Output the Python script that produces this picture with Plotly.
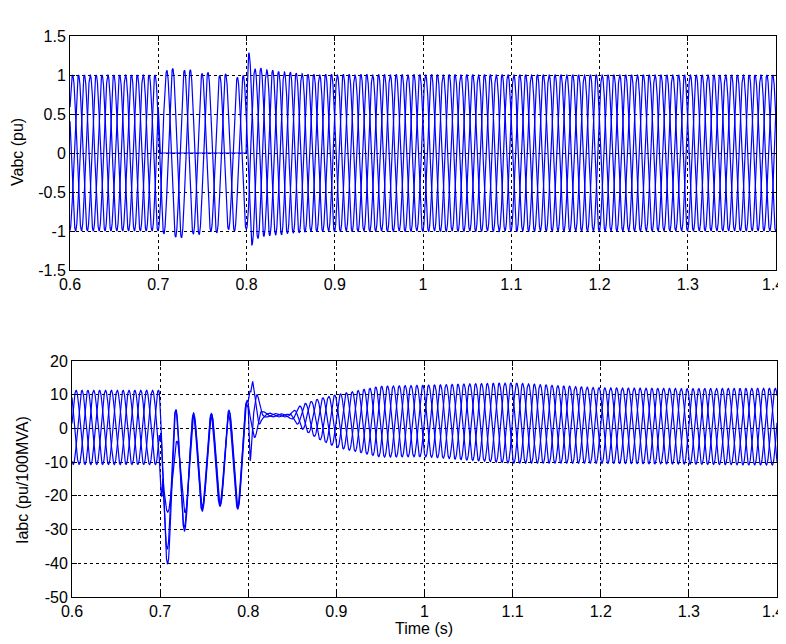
import numpy as np
import plotly.graph_objects as go

# ---------------- data ----------------
F_HZ = 50.0                      # grid frequency (peak spacing)
T_START, T_END, DT = 0.6, 1.4, 0.0001

# Voltage envelopes (pu): amplitude knots per phase
VA_T   = [0.6, 0.700, 0.7015, 0.7995, 0.8015, 0.806, 0.812, 0.82, 0.835, 0.85, 0.88, 1.4]
VA_AMP = [1.0, 1.0,   0.0,    0.0,    1.33,   1.16,  1.10,  1.07, 1.05,  1.03, 1.0,  1.0]
VBC_T  = [0.6, 0.700, 0.705, 0.72, 0.75, 0.79, 0.800, 0.805, 0.81, 0.82, 0.84, 0.87, 1.4]
VB_AMP = [1.0, 1.0,   1.05,  1.08, 1.02, 0.97, 0.98,  1.08,  1.08, 1.07, 1.05, 1.01, 1.0]
VC_AMP = [1.0, 1.0,   1.03,  1.10, 1.04, 1.00, 0.99,  1.20,  1.12, 1.07, 1.04, 1.01, 1.0]
V_PHASE = [0.10, 0.10 - 1/3, 0.10 + 1/3]      # phase of a, b, c (cycles)

# Current envelopes (pu/100MVA)
IA_T   = [0.6, 0.699, 0.702, 0.71, 0.73, 0.75, 0.77, 0.79, 0.798, 0.805, 0.81, 0.815, 0.82, 0.845, 0.85, 0.86, 0.88, 0.9, 0.95, 1.0, 1.05, 1.1, 1.15, 1.2, 1.3, 1.4]
IA_AMP = [11,  11,    20,    24,   17,   14,   14,   15,   14,    9,     6,    1.5,   0.6,  0.4,   1.2,  3.5,  6.0,  7.8, 10.5, 10.6, 11.3, 11.9, 11.5, 11.2, 11.2, 11.4]
IA_OFF = [0.3, 0.3,   -14,   -18,  -12,  -10,  -9,   -9,   -6,    5,     4.5,  4.0,   4.0,  3.8,   3.8,  3.5,  2.8,  2.2,  2.0,  2.2,  1.9,  1.6,  1.2,  0.85, 0.6,  0.5]
IB_AMP = [11,  11,    9,     8,    14,   13.5, 13.5, 14.5, 13.5,  9,     6,    1.5,   0.6,  0.4,   1.2,  3.5,  6.0,  7.8, 10.5, 10.6, 11.3, 11.9, 11.5, 11.2, 11.2, 11.4]
IB_OFF = [0.3, 0.3,   -15,   -17,  -11,  -9.5, -9,   -9,   -6,    5,     4.5,  4.0,   4.0,  3.8,   3.8,  3.5,  2.8,  2.2,  2.0,  2.2,  1.9,  1.6,  1.2,  0.85, 0.6,  0.5]
IC_AMP = [11,  11,    18,    22,   16,   13.5, 13,   14,   13,    9,     6,    1.5,   0.6,  0.4,   1.2,  3.5,  6.0,  7.8, 10.5, 10.6, 11.3, 11.9, 11.5, 11.2, 11.2, 11.4]
IC_OFF = [0.3, 0.3,   -12,   -16,  -12,  -10,  -9.5, -9.5, -6,    5,     4.5,  4.0,   4.0,  3.8,   3.8,  3.5,  2.8,  2.2,  2.0,  2.2,  1.9,  1.6,  1.2,  0.85, 0.6,  0.5]
# phase of each current (cycles); during the fault all three swing together
IPH_T = [0.6, 0.700, 0.703, 0.800, 0.803, 1.4]
IA_PH = [0.35, 0.35, 0.35, 0.35, 0.35, 0.35]
IB_PH = [0.35 - 1/3, 0.35 - 1/3, 0.33, 0.33, 0.35 - 1/3, 0.35 - 1/3]
IC_PH = [0.35 + 1/3, 0.35 + 1/3, 0.37, 0.37, 0.35 + 1/3, 0.35 + 1/3]

X_TICKS = [0.6, 0.7, 0.8, 0.9, 1.0, 1.1, 1.2, 1.3, 1.4]
X_LABELS = ["0.6", "0.7", "0.8", "0.9", "1", "1.1", "1.2", "1.3", "1.4"]
V_TICKS = [-1.5, -1, -0.5, 0, 0.5, 1, 1.5]
V_LABELS = ["-1.5", "-1", "-0.5", "0", "0.5", "1", "1.5"]
I_TICKS = [-50, -40, -30, -20, -10, 0, 10, 20]
I_LABELS = ["-50", "-40", "-30", "-20", "-10", "0", "10", "20"]

# ---------------- build traces ----------------
t = np.arange(T_START, T_END + DT / 2, DT)

def wave(amp_t, amp, phase, off_t=None, off=None, ph_t=None, ph=None):
    a = np.interp(t, amp_t, amp)
    o = np.zeros_like(t) if off is None else np.interp(t, off_t, off)
    p = phase if ph is None else np.interp(t, ph_t, ph)
    return o + a * np.sin(2 * np.pi * (F_HZ * t + p))

va = wave(VA_T, VA_AMP, V_PHASE[0])
vb = wave(VBC_T, VB_AMP, V_PHASE[1])
vc = wave(VBC_T, VC_AMP, V_PHASE[2])

ia = wave(IA_T, IA_AMP, None, IA_T, IA_OFF, IPH_T, IA_PH)
ib = wave(IA_T, IB_AMP, None, IA_T, IB_OFF, IPH_T, IB_PH)
ic = wave(IA_T, IC_AMP, None, IA_T, IC_OFF, IPH_T, IC_PH)

fig = go.Figure()
line = dict(color="#0000ff", width=1.2)
for y in (va, vb, vc):
    fig.add_trace(go.Scatter(x=t, y=y, mode="lines", line=line, xaxis="x", yaxis="y",
                             showlegend=False, hoverinfo="skip"))
for y in (ia, ib, ic):
    fig.add_trace(go.Scatter(x=t, y=y, mode="lines", line=line, xaxis="x2", yaxis="y2",
                             showlegend=False, hoverinfo="skip"))

# page body has an 8 px margin, so figure coordinates are shifted by 8 px
W, H = 786, 644
S = 8
font = dict(family="Liberation Sans, Arial, sans-serif", size=16, color="black")
axis_common = dict(showline=True, linecolor="black", linewidth=1, mirror="ticks",
                   ticks="inside", ticklen=5, tickcolor="black",
                   showgrid=True, gridcolor="black", gridwidth=1, griddash="3px,3px",
                   zeroline=False, tickfont=font, automargin=False)

def xd(a, b):
    return [(a - S) / W, (b - S) / W]

def yd(top, bottom):
    return [1 - (bottom - S) / H, 1 - (top - S) / H]

# the last x label sits at the window edge: draw it as a right-anchored text so it stays whole
x_labels_axis = X_LABELS[:-1] + [""]

fig.update_layout(
    width=W, height=H,
    margin=dict(l=0, r=0, t=0, b=0, pad=0, autoexpand=False),
    paper_bgcolor="white", plot_bgcolor="white",
    font=font,
    xaxis=dict(domain=xd(70, 776), range=[0.6, 1.4], tickvals=X_TICKS, ticktext=x_labels_axis,
               anchor="y", **axis_common),
    yaxis=dict(domain=yd(36, 270), range=[-1.5, 1.5], tickvals=V_TICKS, ticktext=V_LABELS,
               anchor="x", **axis_common),
    xaxis2=dict(domain=xd(72, 777), range=[0.6, 1.4], tickvals=X_TICKS, ticktext=x_labels_axis,
                anchor="y2", **axis_common),
    yaxis2=dict(domain=yd(361, 597), range=[-50, 20], tickvals=I_TICKS, ticktext=I_LABELS,
                anchor="x2", **axis_common),
    annotations=[
        dict(text="Vabc (pu)", x=(17 - S) / W, y=1 - (152 - S) / H, xref="paper", yref="paper",
             textangle=-90, showarrow=False, font=font, xanchor="center", yanchor="middle"),
        dict(text="Iabc (pu/100MVA)", x=(22 - S) / W, y=1 - (480 - S) / H, xref="paper", yref="paper",
             textangle=-90, showarrow=False, font=font, xanchor="center", yanchor="middle"),
        dict(text="Time (s)", x=(424 - S) / W, y=1 - (628 - S) / H, xref="paper", yref="paper",
             showarrow=False, font=font, xanchor="center", yanchor="middle"),
        dict(text=X_LABELS[-1], x=(785 - S) / W, y=1 - (284 - S) / H, xref="paper", yref="paper",
             showarrow=False, font=font, xanchor="right", yanchor="middle", borderpad=0),
        dict(text=X_LABELS[-1], x=(785 - S) / W, y=1 - (611 - S) / H, xref="paper", yref="paper",
             showarrow=False, font=font, xanchor="right", yanchor="middle", borderpad=0),
    ],
)

fig.write_html("out.html")
